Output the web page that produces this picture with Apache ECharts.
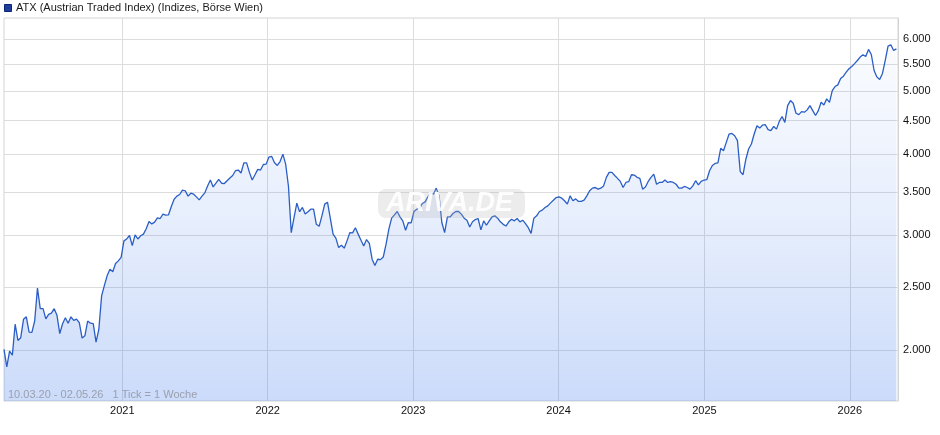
<!DOCTYPE html>
<html>
<head>
<meta charset="utf-8">
<script src="https://cdn.jsdelivr.net/npm/echarts@6/dist/echarts.min.js"></script>
<style>
html,body{margin:0;padding:0;background:#fff;}
#chart{width:940px;height:435px;}
</style>
</head>
<body>
<div id="chart"></div>
<script>
// ---- data ----
const startDate = Date.UTC(2020, 2, 10);   // 10.03.20, weekly ticks
const endDate = Date.UTC(2026, 4, 2);      // 02.05.26
const atxValues = [
  2005,1885,1993,1965,2192,2070,2090,2230,2250,2132,
  2130,2217,2490,2316,2316,2234,2270,2280,2316,2262,
  2120,2196,2243,2200,2250,2222,2232,2204,2087,2104,
  2217,2200,2197,2058,2152,2423,2515,2603,2663,2638,
  2716,2742,2777,2943,2963,2999,2894,3006,2963,2996,
  3014,3071,3151,3125,3144,3192,3185,3235,3223,3227,
  3324,3410,3447,3467,3520,3513,3447,3483,3471,3438,
  3402,3447,3487,3574,3649,3561,3608,3657,3608,3604,
  3640,3675,
  3708,3771,3780,3741,3878,3878,3749,3649,3718,3789,
  3780,3855,3860,3958,3967,3878,3842,3896,3998,3860,
  3570,3030,3196,3363,3262,3312,3235,3262,3292,3292,
  3120,3098,3215,3351,3374,3189,3014,2971,2874,2898,
  2868,2943,3030,3027,3083,3014,2950,2891,2957,2917,
  2758,2698,2758,2754,2780,2909,3067,3189,3227,3265,
  3203,3159,3056,3140,3136,3265,3292,3300,3358,3378,
  3438,3491,3471,3546,3451,3140,3030,3203,3203,3242,
  3265,
  3265,3235,3189,3166,3091,3148,3173,3185,3060,3159,
  3110,3159,3203,3215,3189,3148,3120,3101,3148,3177,
  3159,3185,3148,3166,3128,3083,3022,3189,3215,3265,
  3281,3312,3331,3366,3398,3430,3438,3422,3391,3351,
  3451,3391,3414,3383,3383,3398,3451,3513,3546,3554,
  3533,3546,3574,3684,3749,3749,3708,3671,3631,3554,
  3618,3627,3718,3714,3684,3671,3533,3561,3631,3684,
  3727,3595,3618,3618,3649,3618,3627,3618,3595,3546,
  3546,3567,3554,3533,3574,3640,3586,3631,3649,3653,
  3771,3842,3869,3878,4082,4048,4169,4293,4302,4268,
  4194,3760,3718,3924,4072,4145,4293,4421,4384,4432,
  4437,4360,4345,4410,4368,4490,4567,4474,4747,4832,
  4786,4620,4599,4648,4637,4676,4747,4664,4583,4664,
  4803,4758,4861,4803,5006,5078,5108,5224,5267,5342,
  5407,5452,5506,5568,5635,5681,5648,5790,5687,5374,
  5254,5205,5318,5568,5857,5887,5769,5800
];
const yTicks = [2000, 2500, 3000, 3500, 4000, 4500, 5000, 5500, 6000];
const yearTicks = [2021, 2022, 2023, 2024, 2025, 2026];
const yMin = 1671, yMax = 6470;
const titleText = 'ATX (Austrian Traded Index) (Indizes, Börse Wien)';
const rangeText = '10.03.20 - 02.05.26   1 Tick = 1 Woche';

// ---- build ----
const WEEK = 7 * 86400000;
const seriesData = atxValues.map((v, i) => [startDate + i * WEEK, Math.log10(v)]);
const yearTs = yearTicks.map(y => Date.UTC(y, 0, 1));
const yLog = yTicks.map(v => Math.log10(v));
const fmtNum = v => { const n = Math.round(Math.pow(10, v)); return String(n).replace(/\B(?=(\d{3})+(?!\d))/g, '.'); };

const chart = echarts.init(document.getElementById('chart'), null, {renderer: 'canvas'});
const FONT = '"Liberation Sans", Arial, sans-serif';
chart.setOption({
  animation: false,
  backgroundColor: '#fff',
  textStyle: {fontFamily: FONT},
  grid: {left: 4, right: 42, top: 18, bottom: 34, show: true, borderColor: '#d4d4d4', borderWidth: 1, backgroundColor: 'transparent'},
  graphic: [
    {type: 'rect', left: 4, top: 4, shape: {width: 7, height: 7}, style: {fill: '#1e3f9e', stroke: '#0d2470', lineWidth: 1}, z: 10},
    {type: 'text', left: 16, top: 2, style: {text: titleText, fill: '#1a1a1a', font: '11px ' + FONT}, z: 10},
    {type: 'text', left: 8, top: 389, style: {text: rangeText, fill: '#9aa0ad', font: '11px ' + FONT}, z: 10},
    {type: 'rect', left: 378, top: 189, shape: {width: 147, height: 29, r: 8}, style: {fill: 'rgba(180,180,180,0.25)'}, z: 9},
    {type: 'text', left: 386, top: 190, style: {text: 'ARIVA.DE', fill: 'rgba(255,255,255,0.9)', font: 'italic bold 27px ' + FONT}, z: 9}
  ],
  xAxis: {
    type: 'value',
    min: startDate,
    max: endDate,
    axisLine: {show: false},
    axisTick: {show: false, customValues: yearTs},
    axisLabel: {customValues: yearTs, color: '#111', fontSize: 11, fontFamily: FONT, margin: 4,
      formatter: v => String(new Date(v).getUTCFullYear())},
    splitLine: {show: true, lineStyle: {color: '#dcdcdc', width: 1}}
  },
  yAxis: {
    type: 'value',
    position: 'right',
    min: Math.log10(yMin),
    max: Math.log10(yMax),
    axisLine: {show: true, lineStyle: {color: '#d4d4d4'}},
    axisTick: {show: false, customValues: yLog},
    axisLabel: {customValues: yLog, color: '#111', fontSize: 11, fontFamily: FONT, margin: 5, formatter: fmtNum},
    splitLine: {show: true, lineStyle: {color: '#dcdcdc', width: 1}}
  },
  series: [{
    type: 'line',
    data: seriesData,
    showSymbol: false,
    smooth: false,
    lineStyle: {color: '#2a5ec6', width: 1.3},
    areaStyle: {
      origin: 'start',
      color: new echarts.graphic.LinearGradient(0, 0, 0, 1, [
        {offset: 0, color: 'rgba(60,120,235,0.04)'},
        {offset: 0.5, color: 'rgba(60,120,235,0.18)'},
        {offset: 1, color: 'rgba(60,120,235,0.38)'}
      ])
    }
  }]
});
</script>
</body>
</html>
